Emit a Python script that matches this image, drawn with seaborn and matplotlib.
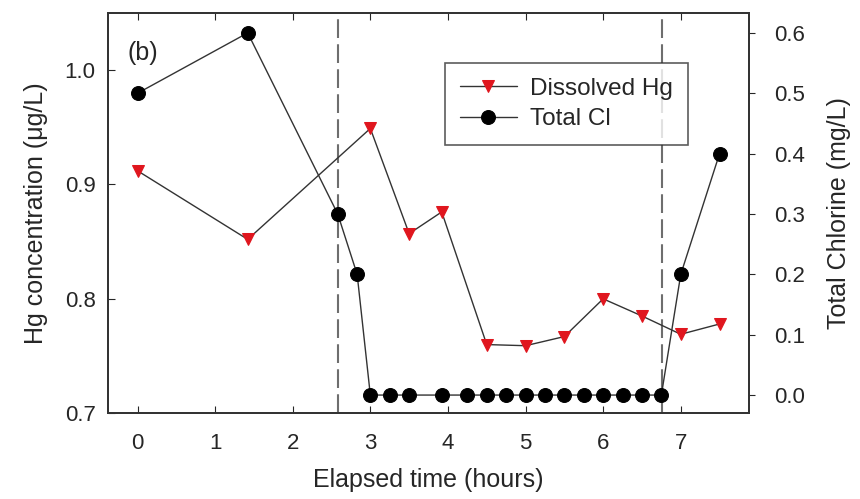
import numpy as np
import pandas as pd
import matplotlib
matplotlib.use("Agg")
import matplotlib.pyplot as plt
import seaborn as sns

# dissolved Hg (left axis, ug/L)
hg_time = [0, 1.42, 3.0, 3.5, 3.92, 4.5, 5.0, 5.5, 6.0, 6.5, 7.0, 7.5]
hg_conc = [0.912, 0.852, 0.949, 0.857, 0.876, 0.760, 0.759, 0.767, 0.800, 0.785, 0.769, 0.778]

# total chlorine (right axis, mg/L)
cl_time = [0, 1.42, 2.58, 2.83, 3.0, 3.25, 3.5, 3.92, 4.25, 4.5, 4.75, 5.0, 5.25,
           5.5, 5.75, 6.0, 6.25, 6.5, 6.75, 7.0, 7.5]
cl_conc = [0.50, 0.60, 0.30, 0.20, 0, 0, 0, 0, 0, 0, 0, 0, 0,
           0, 0, 0, 0, 0, 0, 0.20, 0.40]

# dosing start / stop
vlines = [2.58, 6.76]

sns.set_style("ticks")
plt.rcParams['font.family'] = ['Liberation Sans', 'DejaVu Sans']

df_hg = pd.DataFrame({'time': hg_time, 'hg': hg_conc})
df_cl = pd.DataFrame({'time': cl_time, 'cl': cl_conc})

fig = plt.figure(figsize=(8.6, 4.99), dpi=100)
ax = fig.add_axes([0.1256, 0.172, 0.7454, 0.802])
ax2 = ax.twinx()

sns.lineplot(data=df_hg, x='time', y='hg', ax=ax, color='#333333', lw=1,
             marker='v', markersize=8.5, markerfacecolor='#e0161e',
             markeredgecolor='#e0161e', label='Dissolved Hg', legend=False)
sns.lineplot(data=df_cl, x='time', y='cl', ax=ax2, color='#333333', lw=1,
             marker='o', markersize=10, markerfacecolor='black',
             markeredgecolor='black', label='Total Cl', legend=False)

for v in vlines:
    ax.axvline(v, color='#6e6e6e', lw=1.5, dashes=(9, 3), zorder=0)

ax.set_xlim(-0.38, 7.88)
ax.set_ylim(0.7, 1.05)
ax2.set_ylim(-0.03, 0.633)
ax.set_xticks(range(8))
ax.set_yticks([0.7, 0.8, 0.9, 1.0])
ax2.set_yticks([0.0, 0.1, 0.2, 0.3, 0.4, 0.5, 0.6])
ax.set_yticklabels(['0.7', '0.8', '0.9', '1.0'])
ax2.set_yticklabels(['0.0', '0.1', '0.2', '0.3', '0.4', '0.5', '0.6'])

ax.tick_params(axis='x', direction='in', top=True, length=5, pad=14, labelsize=16)
ax.tick_params(axis='y', direction='in', length=5, pad=9, labelsize=16)
ax2.tick_params(axis='y', direction='out', length=4, pad=14, labelsize=16)

for a in (ax, ax2):
    for s in a.spines.values():
        s.set_visible(True)
        s.set_color('#333333')
        s.set_linewidth(1.3)

ax.set_xlabel('Elapsed time (hours)', fontsize=18, labelpad=10)
ax.set_ylabel('Hg concentration (μg/L)', fontsize=18, labelpad=12)
ax2.set_ylabel('Total Chlorine (mg/L)', fontsize=18, labelpad=16)

ax.text(0.031, 0.90, '(b)', transform=ax.transAxes, fontsize=18, va='center', ha='left')

h1, l1 = ax.get_legend_handles_labels()
h2, l2 = ax2.get_legend_handles_labels()
leg = ax.legend(h1 + h2, l1 + l2, loc='upper left', bbox_to_anchor=(0.526, 0.875),
                fontsize=17.5, frameon=True, fancybox=False, edgecolor='#333333',
                handlelength=2.35, handletextpad=0.55, borderpad=0.6, labelspacing=0.35,
                borderaxespad=0)
leg.get_frame().set_linewidth(1.2)

fig.savefig('out.png', dpi=100)
